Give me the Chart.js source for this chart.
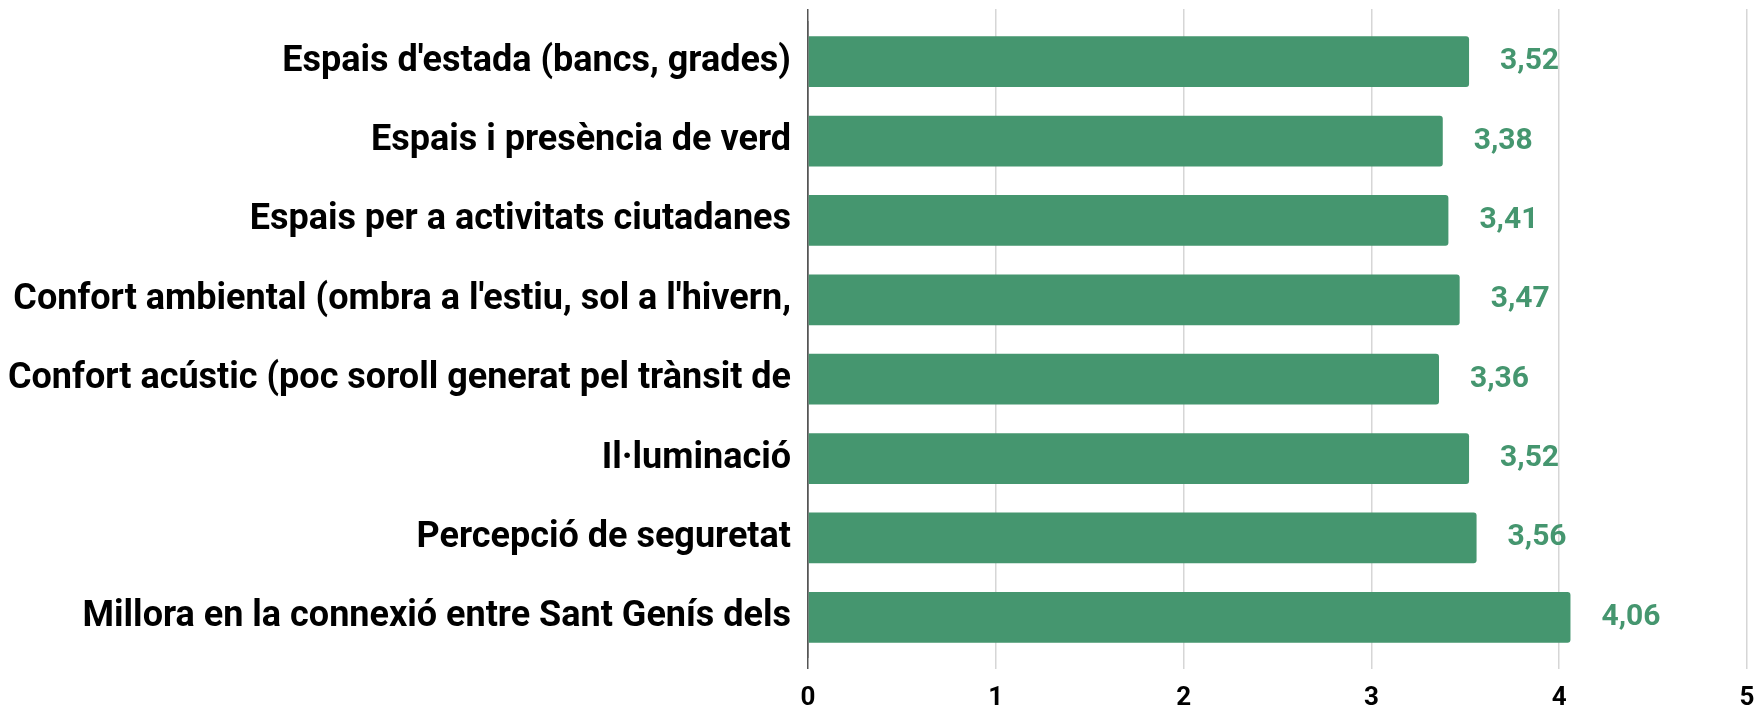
<!DOCTYPE html>
<html>
<head>
<meta charset="utf-8">
<script src="https://cdn.jsdelivr.net/npm/chart.js@4.4.1/dist/chart.umd.min.js"></script>
<style>
  html, body { margin: 0; padding: 0; background: #fff; }
  #wrap { width: 1762px; height: 711px; }
</style>
</head>
<body>
<div id="wrap"><canvas id="chart"></canvas></div>
<script>
// categories (as cut off in the original chart)
const labels = [
    "Espais d'estada (bancs, grades)",
    "Espais i presència de verd",
    "Espais per a activitats ciutadanes",
    "Confort ambiental (ombra a l'estiu, sol a l'hivern,",
    "Confort acústic (poc soroll generat pel trànsit de",
    "Il·luminació",
    "Percepció de seguretat",
    "Millora en la connexió entre Sant Genís dels"
];
const scores = [3.52, 3.38, 3.41, 3.47, 3.36, 3.52, 3.56, 4.06];
const xTicks = [0, 1, 2, 3, 4, 5];

const green = "#45966f";
const gridGrey = "#d6d6d6";
const axisGrey = "#555555";

// value labels to the right of each bar
const valueLabels = {
    id: "valueLabels",
    afterDatasetsDraw(chart) {
        const ctx = chart.ctx;
        const meta = chart.getDatasetMeta(0);
        ctx.save();
        ctx.font = "bold 30px Roboto";
        ctx.fillStyle = green;
        ctx.textAlign = "left";
        ctx.textBaseline = "middle";
        meta.data.forEach((bar, i) => {
            ctx.fillText(scores[i].toFixed(2).replace(".", ","), bar.x + 31, bar.y);
        });
        ctx.restore();
    }
};

const lineColor = (c) => (c.tick && c.tick.value === 0 ? axisGrey : gridGrey);

new Chart(document.getElementById("chart"), {
    type: "bar",
    data: {
        labels: labels,
        datasets: [{
            data: scores,
            backgroundColor: green,
            borderRadius: 3,
            borderSkipped: "start",
            barPercentage: 0.8,
            categoryPercentage: 0.8
        }]
    },
    options: {
        indexAxis: "y",
        responsive: true,
        maintainAspectRatio: false,
        animation: false,
        layout: { padding: { top: 9, right: 15, bottom: 0, left: 0 } },
        plugins: { legend: { display: false }, tooltip: { enabled: false } },
        scales: {
            x: {
                type: "linear",
                min: 0,
                max: 5,
                afterBuildTicks: (s) => { s.ticks = xTicks.map(v => ({ value: v })); },
                afterFit: (s) => { s.height = 54; s.paddingLeft = 0; s.paddingRight = 0; },
                border: { display: false },
                grid: { color: lineColor, tickLength: 12, lineWidth: 1.5 },
                ticks: {
                    color: "#000",
                    padding: 14,
                    font: { family: "Roboto", size: 26, weight: "bold" }
                }
            },
            x2: {
                type: "linear",
                axis: "x",
                position: "top",
                min: 0,
                max: 5,
                afterBuildTicks: (s) => { s.ticks = xTicks.map(v => ({ value: v })); },
                afterFit: (s) => { s.height = 13; s.paddingLeft = 0; s.paddingRight = 0; },
                border: { display: false },
                grid: { color: lineColor, tickLength: 13, drawOnChartArea: false, lineWidth: 1.5 },
                ticks: { display: false }
            },
            y: {
                afterFit: (s) => { s.width = 808; s.paddingTop = 0; s.paddingBottom = 0; },
                grid: { display: false, drawTicks: false },
                border: { display: true, color: axisGrey, width: 1.5 },
                ticks: {
                    color: "#000",
                    padding: 17,
                    font: { family: "Roboto", size: 36, weight: "bold" }
                }
            }
        }
    },
    plugins: [valueLabels]
});
</script>
</body>
</html>
